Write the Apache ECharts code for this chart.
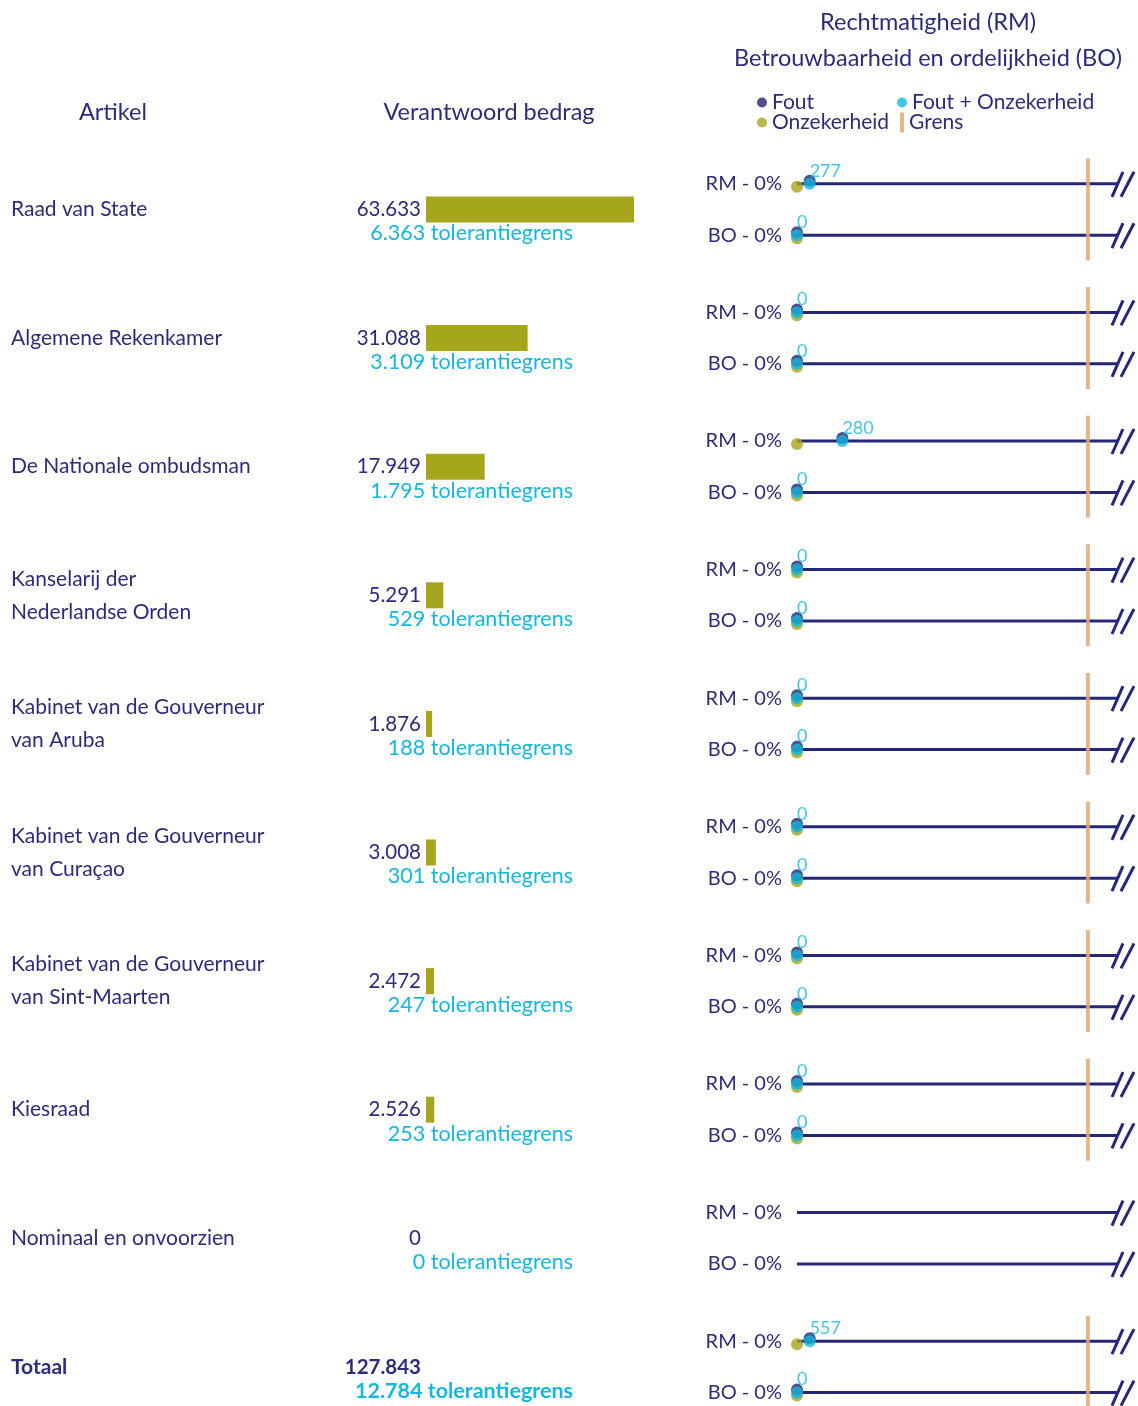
<!DOCTYPE html>
<html>
<head>
<meta charset="utf-8">
<title>Verantwoord bedrag en tolerantiegrens per artikel</title>
<script src="https://cdn.jsdelivr.net/npm/echarts@6.0.0/dist/echarts.min.js"></script>
<style>
  html, body { margin: 0; padding: 0; background: #fff; }
  #chart { width: 1138px; height: 1406px; }
</style>
</head>
<body>
<div id="chart"></div>
<script>
// artikelen (laatste rij = totaal)
const artikelen = [
  'Raad van State',
  'Algemene Rekenkamer',
  'De Nationale ombudsman',
  'Kanselarij der\nNederlandse Orden',
  'Kabinet van de Gouverneur\nvan Aruba',
  'Kabinet van de Gouverneur\nvan Curaçao',
  'Kabinet van de Gouverneur\nvan Sint-Maarten',
  'Kiesraad',
  'Nominaal en onvoorzien',
  'Totaal'
]

// bedragen x 1.000
const verantwoord = [63633, 31088, 17949, 5291, 1876, 3008, 2472, 2526, 0, 127843]
const tolerantie = [6363, 3109, 1795, 529, 188, 301, 247, 253, 0, 12784]

// fouten en onzekerheden
const foutRM = [277, 0, 280, 0, 0, 0, 0, 0, 0, 557]
const onzekerRM = [0, 0, 0, 0, 0, 0, 0, 0, 0, 0]
const foutBO = [0, 0, 0, 0, 0, 0, 0, 0, 0, 0]
const onzekerBO = [0, 0, 0, 0, 0, 0, 0, 0, 0, 0]
const pctRM = [0, 0, 0, 0, 0, 0, 0, 0, 0, 0]
const pctBO = [0, 0, 0, 0, 0, 0, 0, 0, 0, 0]

const navy = '#2d2b7c'
const lineNavy = '#27277a'
const cyan = '#14b7df'
const olive = '#a5a61b'
const orange = '#e2a878'
const font = 'Lato'

const totaalIdx = artikelen.length - 1
const fmt = v => String(v).replace(/\B(?=(\d{3})+(?!\d))/g, '.')

// posities van RM / BO binnen een rij
const RM_OFF = -0.2
const BO_OFF = 0.2

// punten: x = bedrag / tolerantiegrens
const punten = (rm, bo) => {
  const out = []
  artikelen.forEach((a, i) => {
    if (tolerantie[i] <= 0) return
    out.push([rm[i] / tolerantie[i], i + RM_OFF, rm[i]])
    out.push([bo[i] / tolerantie[i], i + BO_OFF, bo[i]])
  })
  return out
}

const foutData = punten(foutRM, foutBO)
const onzekerData = punten(onzekerRM, onzekerBO)
const totaalData = punten(
  foutRM.map((v, i) => v + onzekerRM[i]),
  foutBO.map((v, i) => v + onzekerBO[i])
)
const grensData = artikelen.map((a, i) => (tolerantie[i] > 0 ? [1, i] : null)).filter(d => d)

const lijnData = []
artikelen.forEach((a, i) => {
  lijnData.push([0, i + RM_OFF, 'RM', pctRM[i]])
  lijnData.push([0, i + BO_OFF, 'BO', pctBO[i]])
})

const chart = echarts.init(document.getElementById('chart'))

const gridTop = 145.2
const gridHeight = 1286
const kop = '23.5px ' + font
const legendText = { color: navy, fontSize: 21, fontFamily: font }

const option = {
  animation: false,
  textStyle: { fontFamily: font },
  graphic: [
    { type: 'text', x: 113, y: 112, style: { text: 'Artikel', align: 'center', verticalAlign: 'middle', fill: navy, font: kop } },
    { type: 'text', x: 489, y: 112, style: { text: 'Verantwoord bedrag', align: 'center', verticalAlign: 'middle', fill: navy, font: kop } },
    { type: 'text', x: 928, y: 22, style: { text: 'Rechtmatigheid (RM)', align: 'center', verticalAlign: 'middle', fill: navy, font: kop } },
    { type: 'text', x: 928, y: 58, style: { text: 'Betrouwbaarheid en ordelijkheid (BO)', align: 'center', verticalAlign: 'middle', fill: navy, font: kop } }
  ],
  legend: [
    { data: [{ name: 'Fout', icon: 'circle' }], left: 757, top: 92, padding: 0, itemWidth: 10, itemHeight: 10, itemGap: 0, selectedMode: false, textStyle: legendText },
    { data: [{ name: 'Fout + Onzekerheid', icon: 'circle' }], left: 897, top: 92, padding: 0, itemWidth: 10, itemHeight: 10, selectedMode: false, textStyle: legendText },
    { data: [{ name: 'Onzekerheid', icon: 'circle' }], left: 757, top: 112, padding: 0, itemWidth: 10, itemHeight: 10, selectedMode: false, textStyle: legendText },
    { data: [{ name: 'Grens', icon: 'rect' }], left: 900, top: 112, padding: 0, itemWidth: 4, itemHeight: 20, selectedMode: false, textStyle: legendText }
  ],
  grid: [
    { left: 426, top: gridTop, width: 261.5, height: gridHeight, outerBoundsMode: 'none', containLabel: false },
    { left: 797, top: gridTop, width: 320, height: gridHeight, outerBoundsMode: 'none', containLabel: false }
  ],
  xAxis: [
    { gridIndex: 0, type: 'value', min: 0, max: 80000, show: false },
    { gridIndex: 1, type: 'value', min: 0, max: 1.1, show: false }
  ],
  yAxis: [
    {
      gridIndex: 0,
      type: 'category',
      inverse: true,
      data: artikelen,
      axisLine: { show: false },
      axisTick: { show: false },
      splitLine: { show: false },
      axisLabel: {
        align: 'left',
        margin: 415,
        color: navy,
        fontSize: 21,
        fontFamily: font,
        lineHeight: 33,
        formatter: (v, i) => (i === totaalIdx ? '{b|' + v + '}' : v),
        rich: { b: { fontWeight: 'bold', fontSize: 21, color: navy, fontFamily: font } }
      }
    },
    { gridIndex: 1, type: 'value', inverse: true, min: -0.5, max: 9.5, show: false }
  ],
  series: [
    {
      name: 'Verantwoord bedrag',
      type: 'bar',
      xAxisIndex: 0,
      yAxisIndex: 0,
      barWidth: 26,
      itemStyle: { color: olive },
      data: verantwoord.map((v, i) => (i === totaalIdx ? '-' : v))
    },
    {
      name: 'labels',
      type: 'custom',
      xAxisIndex: 0,
      yAxisIndex: 0,
      silent: true,
      data: verantwoord.map((v, i) => [0, i, v, tolerantie[i]]),
      renderItem: (params, api) => {
        const p = api.coord([0, api.value(1)])
        const bold = params.dataIndex === totaalIdx ? 'bold ' : ''
        return {
          type: 'group',
          children: [
            { type: 'text', x: p[0] - 5, y: p[1], style: { text: fmt(api.value(2)), align: 'right', verticalAlign: 'middle', fill: navy, font: bold + '20.5px ' + font } },
            { type: 'text', x: p[0] + 147, y: p[1] + 24, style: { text: fmt(api.value(3)) + ' tolerantiegrens', align: 'right', verticalAlign: 'middle', fill: cyan, font: bold + '21.5px ' + font } }
          ]
        }
      }
    },
    {
      name: 'assen',
      type: 'custom',
      xAxisIndex: 1,
      yAxisIndex: 1,
      silent: true,
      z: 1,
      data: lijnData,
      renderItem: (params, api) => {
        const y = api.value(1)
        const p0 = api.coord([0, y])
        const p1 = api.coord([1.1, y])
        const e = p1[0]
        const st = { stroke: lineNavy, lineWidth: 3 }
        const item = lijnData[params.dataIndex]
        return {
          type: 'group',
          children: [
            { type: 'line', shape: { x1: p0[0], y1: p0[1], x2: e, y2: p1[1] }, style: st },
            { type: 'line', shape: { x1: e - 5, y1: p1[1] + 13, x2: e + 6, y2: p1[1] - 12 }, style: st },
            { type: 'line', shape: { x1: e + 4, y1: p1[1] + 13, x2: e + 17, y2: p1[1] - 12 }, style: st },
            { type: 'text', x: p0[0] - 15, y: p0[1], style: { text: item[2] + ' - ' + item[3] + '%', align: 'right', verticalAlign: 'middle', fill: navy, font: '20px ' + font } }
          ]
        }
      }
    },
    {
      name: 'Grens',
      type: 'scatter',
      xAxisIndex: 1,
      yAxisIndex: 1,
      symbol: 'rect',
      symbolSize: [4, 102],
      z: 2,
      itemStyle: { color: orange, opacity: 0.85 },
      data: grensData
    },
    {
      name: 'Onzekerheid',
      type: 'scatter',
      xAxisIndex: 1,
      yAxisIndex: 1,
      symbol: 'circle',
      symbolSize: 12,
      symbolOffset: [0, 3],
      z: 3,
      itemStyle: { color: olive },
      data: onzekerData
    },
    {
      name: 'Fout',
      type: 'scatter',
      xAxisIndex: 1,
      yAxisIndex: 1,
      symbol: 'circle',
      symbolSize: 12,
      symbolOffset: [0, -3],
      z: 4,
      itemStyle: { color: '#232370' },
      data: foutData
    },
    {
      name: 'Fout + Onzekerheid',
      type: 'scatter',
      xAxisIndex: 1,
      yAxisIndex: 1,
      symbol: 'circle',
      symbolSize: 12,
      z: 5,
      itemStyle: { color: cyan },
      label: {
        show: true,
        position: 'top',
        align: 'left',
        distance: 0,
        offset: [0, 2],
        color: cyan,
        fontSize: 18,
        fontFamily: font,
        formatter: p => p.value[2]
      },
      data: totaalData
    }
  ]
}

chart.setOption(option)
</script>
</body>
</html>
